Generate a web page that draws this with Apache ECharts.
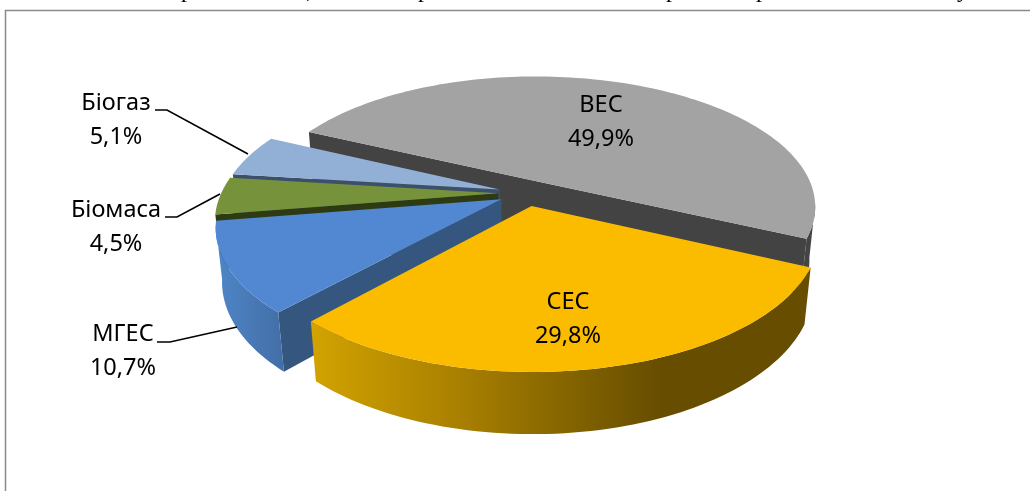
<!DOCTYPE html>
<html><head><meta charset="utf-8">
<style>html,body{margin:0;padding:0;background:#fff}#c{width:1030px;height:491px}</style>
<script src="https://cdn.jsdelivr.net/npm/echarts@6/dist/echarts.min.js"></script>
</head><body><div id="c"></div>
<script>
// Data, in the chart's clockwise order
const categories = ['ВЕС', 'СЕС', 'МГЕС', 'Біомаса', 'Біогаз'];
const shares = [49.9, 29.8, 10.7, 4.5, 5.1];

// Appearance, per category
const topColors = ['#a3a3a3', '#fbbc00', '#5288d2', '#76933c', '#92b0d6'];
const cutColors = ['#434343', '#664d00', '#35567f', '#2d3a12', '#3c4f6b'];
const rimColors = [
  '#444444',
  {type:'linear',x:0,y:0,x2:1,y2:0,colorStops:[{offset:0,color:'#d2a300'},{offset:.3,color:'#a87f00'},{offset:.7,color:'#664d00'},{offset:1,color:'#664d00'}]},
  {type:'linear',x:0,y:0,x2:1,y2:0,colorStops:[{offset:0,color:'#4f86c8'},{offset:1,color:'#426ea6'}]},
  '#2d3a12', '#3c4f6b'
];
// Label placement, and leader-line routes for the outside labels
const labelLayout = {
  'ВЕС':     {at:[601,122]},
  'СЕС':     {at:[568,319]},
  'МГЕС':    {at:[123,351], leader:[[157,342],[170,342],[237,327]]},
  'Біомаса': {at:[116,227], leader:[[165,217],[177,217],[220,194]]},
  'Біогаз':  {at:[116,120], leader:[[155,110],[167,110],[248,154]]}
};
// Projection of the tilted pie onto the screen
const view = {cx:526, cy:193, A:277, B:129, k:0.19, explode:0.1, depth:54, shrink:0.02, startDeg:25, step:1.5, rimFrom:0.16};
const paintOrder = [0, 4, 3, 2, 1];
// The surrounding page's text line, cut off by the top edge of the picture
const clippedLine = [['р',187],[',',309],['р',424],['р',672],['р',762],['у',963]];

const total = shares.reduce((a, b) => a + b, 0);
function sliceAngles(i) {
  let start = view.startDeg - shares[0] / total * 360;
  for (let j = 0; j < i; j++) start += shares[j] / total * 360;
  return [start, start + shares[i] / total * 360];
}
function project(u, v, low) {
  const w = 1 - view.k * v + (low ? view.shrink : 0);
  return [view.cx + view.A * u / w, view.cy + (view.B * v + (low ? view.depth : 0)) / w];
}
function renderSlice(params, api) {
  const i = api.value(1);
  const rad = d => d * Math.PI / 180;
  const [a0, a1] = sliceAngles(i);
  const mid = rad((a0 + a1) / 2);
  const ou = Math.cos(mid) * view.explode, ov = Math.sin(mid) * view.explode;
  const top = [], rimTop = [], rimBot = [];
  const n = Math.max(2, Math.ceil((a1 - a0) / view.step));
  let first, last;
  for (let s = 0; s <= n; s++) {
    const t = rad(a0 + (a1 - a0) * s / n);
    const pt = project(ou + Math.cos(t), ov + Math.sin(t), false);
    top.push(pt);
    if (s === 0) first = project(ou + Math.cos(t), ov + Math.sin(t), true);
    if (s === n) last = project(ou + Math.cos(t), ov + Math.sin(t), true);
    if (Math.sin(t) > view.rimFrom) { // only the part of the rim turned toward the viewer
      rimTop.push(pt);
      rimBot.push(project(ou + Math.cos(t), ov + Math.sin(t), true));
    }
  }
  const apexT = project(ou, ov, false), apexB = project(ou, ov, true);
  const poly = (points, fill, z2) => ({type:'polygon', z2, shape:{points}, style:{fill}});
  const children = [];
  // only the cut faces turned toward the viewer are drawn
  const showStart = Math.sin(rad(a0 - 90)) > 0, showEnd = Math.cos(rad(a1)) > 0;
  if (showStart && showEnd) children.push(poly([first, top[0], apexT, top[n], last, apexB], cutColors[i], 1));
  else if (showStart) children.push(poly([apexT, top[0], first, apexB], cutColors[i], 1));
  else if (showEnd) children.push(poly([apexT, top[n], last, apexB], cutColors[i], 1));
  if (rimTop.length > 1) children.push(poly(rimTop.concat(rimBot.slice().reverse()), rimColors[i], 2));
  children.push(poly([apexT].concat(top), topColors[i], 3));
  const name = categories[i], lay = labelLayout[name];
  if (lay.leader) children.push({type:'polyline', z2:4, shape:{points:lay.leader}, style:{stroke:'#000', lineWidth:1.6, fill:null}});
  children.push({type:'text', z2:5, style:{
    text: name + '\n' + api.value(0).toFixed(1).replace('.', ',') + '%',
    x: lay.at[0], y: lay.at[1], align:'center', verticalAlign:'middle',
    fontFamily:'"Noto Sans"', fontSize:23.5, lineHeight:34, fill:'#000'
  }});
  return {type:'group', children};
}
const chart = echarts.init(document.getElementById('c'), null, {renderer:'canvas'});
chart.setOption({
  animation:false,
  backgroundColor:'#fff',
  graphic:[{type:'rect', silent:true, shape:{x:5.5,y:10.5,width:1100,height:600}, style:{fill:null, stroke:'#8a8a8a', lineWidth:1.5}}]
    .concat(clippedLine.map(([ch, x]) => ({type:'text', silent:true, style:{text:ch, x, y:3, align:'center', verticalAlign:'bottom', fontFamily:'"Liberation Serif"', fontSize:24, fill:'#000'}}))),
  series:[{
    type:'custom', coordinateSystem:'none', silent:true, clip:false,
    renderItem:renderSlice,
    data:paintOrder.map(i => [shares[i], i])
  }]
});
</script></body></html>
